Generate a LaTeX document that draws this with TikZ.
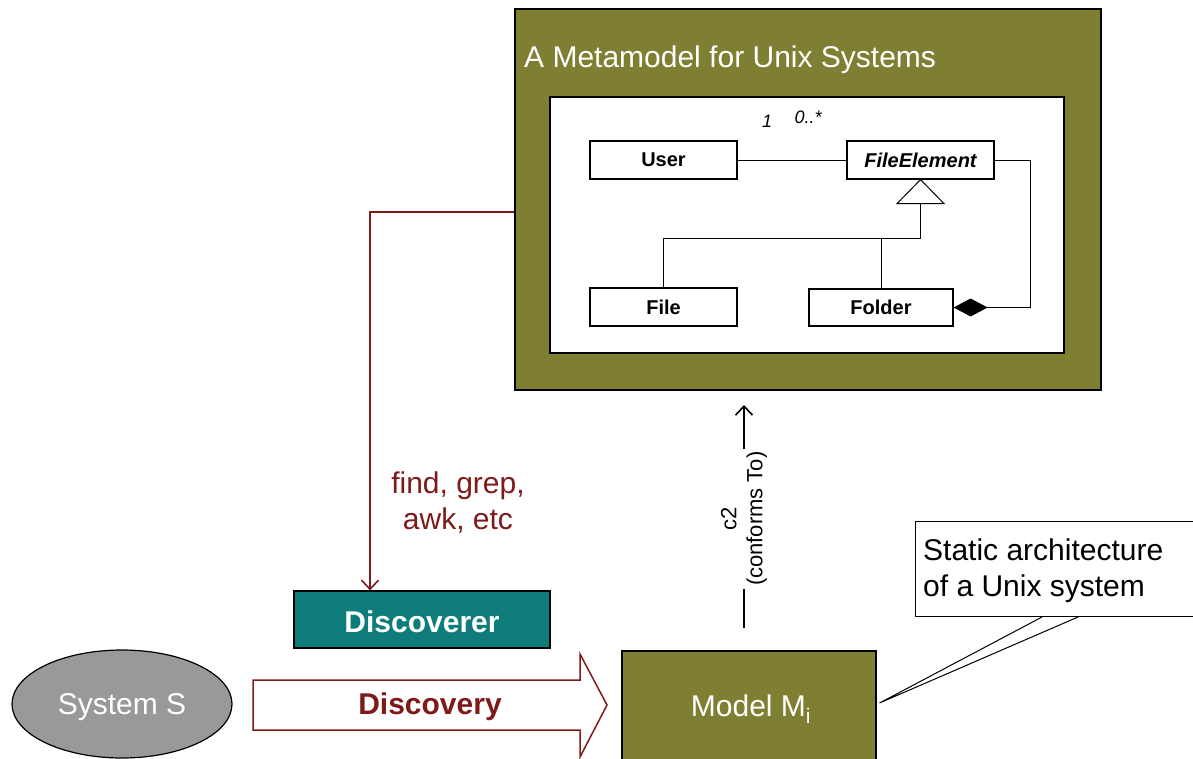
\documentclass[tikz,border=0pt]{standalone}
\usepackage{fontspec}
\setmainfont{Liberation Sans}
\usetikzlibrary{arrows.meta,calc,shapes.geometric}
\definecolor{olive}{HTML}{7F7F33}
\definecolor{tealbox}{HTML}{0E7C7B}
\definecolor{darkred}{HTML}{7F1A1A}
\definecolor{sysgray}{HTML}{999999}
\tikzset{
  big/.style={font=\fontsize{30}{36}\selectfont},
  umlbox/.style={draw=black, line width=1.2pt, fill=white, minimum width=147pt, minimum height=38pt, inner sep=0pt, font=\fontsize{20}{24}\selectfont\bfseries},
  umlline/.style={draw=black, line width=1pt},
  redline/.style={draw=darkred, line width=1.6pt},
  mult/.style={font=\fontsize{18}{20}\selectfont\itshape, inner sep=0pt},
}
\begin{document}
\begin{tikzpicture}[x=1pt,y=-1pt]
\useasboundingbox (0,0) rectangle (1193,758);
\clip (0,0) rectangle (1193,758);
% metamodel package
\node[draw=black, line width=1.5pt, fill=olive, minimum width=586pt, minimum height=381pt, inner sep=0pt, anchor=north west] (outer) at (514,8) {};
\node[draw=black, line width=1.5pt, fill=white, minimum width=514pt, minimum height=256pt, inner sep=0pt, anchor=north west] (inner) at (549,96) {};
\node[big, text=white, anchor=base west, inner sep=0pt] (title) at (524,67) {A Metamodel for Unix Systems};
% UML classes
\node[umlbox] (user) at (663.5,160) {User};
\node[umlbox, font=\fontsize{20}{24}\selectfont\bfseries\itshape] (fe) at (920.5,160) {FileElement};
\node[umlbox] (file) at (663.5,307) {File};
\node[umlbox, minimum width=144pt, minimum height=37pt] (folder) at (881,307.5) {Folder};
\node[mult] (m1) at (767,121) {1};
\node[mult] (m2) at (808,117) {0..*};
\draw[umlline] (user.east) -- (fe.west);
% generalization
\draw[umlline, fill=white] (fe.south) -- ++(-23.5,24) -- ++(47,0) -- cycle;
\coordinate (tb) at ($(fe.south)+(0,24)$);
\coordinate (j) at ($(tb)+(0,35)$);
\draw[umlline] (tb) -- (j);
\draw[umlline] (file.north) |- (j);
\draw[umlline] (folder.north) -- (folder.north |- j);
% composition
\draw[umlline, {Diamond[length=34pt,width=18pt,fill=black]}-] (folder.east) -- ++(77,0) |- (fe.east);
% Discoverer
\node[draw=black, line width=1.3pt, fill=tealbox, minimum width=256pt, minimum height=57pt, inner sep=0pt, text=white, font=\fontsize{30}{36}\selectfont\bfseries, text height=26.5pt, text depth=0pt] (disc) at (422,619.5) {Discoverer};
\coordinate (rs) at ($(outer.north west)+(0,204)$);
\coordinate (rc) at ($(rs)+(-144,0)$);
\draw[redline, -{Straight Barb[length=9pt,width=17pt,line width=1.6pt]}] (rs) -- (rc) -- (rc |- disc.north);
\node[big, text=darkred, align=center, inner sep=0pt] (tools) at (458,503) {find, grep,\\awk, etc};
% System S
\node[ellipse, draw=black, line width=1.2pt, fill=sysgray, minimum width=220pt, minimum height=108pt, inner sep=0pt, text=white, big, text height=21.5pt, text depth=0pt] (sys) at (122,704) {System S};
% Discovery arrow
\draw[draw=darkred, line width=1.5pt, fill=white] (253,680) -- (580,680) -- (580,654) -- (607,705) -- (580,757) -- (580,730) -- (253,730) -- cycle;
\node[text=darkred, font=\fontsize{30}{36}\selectfont\bfseries, inner sep=0pt, text height=21.5pt, text depth=0pt] (dlabel) at (430,704) {Discovery};
% Model Mi
\node[draw=black, line width=1.5pt, fill=olive, minimum width=254pt, minimum height=130pt, inner sep=0pt, anchor=north west] (model) at (621,650) {};
\node[big, text=white, inner sep=0pt] (mlabel) at (751,709) {Model M\textsubscript{i}};
% conforms to
\coordinate (ca) at (744,628);
\coordinate (cb) at (744,405);
\draw[line width=1.6pt, -{Straight Barb[length=9pt,width=17pt,line width=1.6pt]}] (ca) -- (cb)
  node[pos=0.49, fill=white, rotate=90, align=center, inner sep=3pt, font=\fontsize{22}{26}\selectfont] (c2) {c2\\(conforms To)};
% callout
\node[draw=black, line width=1pt, fill=white, anchor=north west, minimum width=290pt, minimum height=95pt, inner sep=0pt] (callout) at (915,521) {};
\node[big, anchor=west, align=left, inner sep=0pt] (ctext) at (923,571) {Static architecture\\of a Unix system};
\coordinate (p1) at ($(callout.south west)+(127,0)$);
\coordinate (p2) at ($(callout.south west)+(163,0)$);
\coordinate (tip) at ($(model.north east)+(3,53)$);
\draw[line width=1pt] (p1) -- (tip) -- (p2);
\end{tikzpicture}
\end{document}
